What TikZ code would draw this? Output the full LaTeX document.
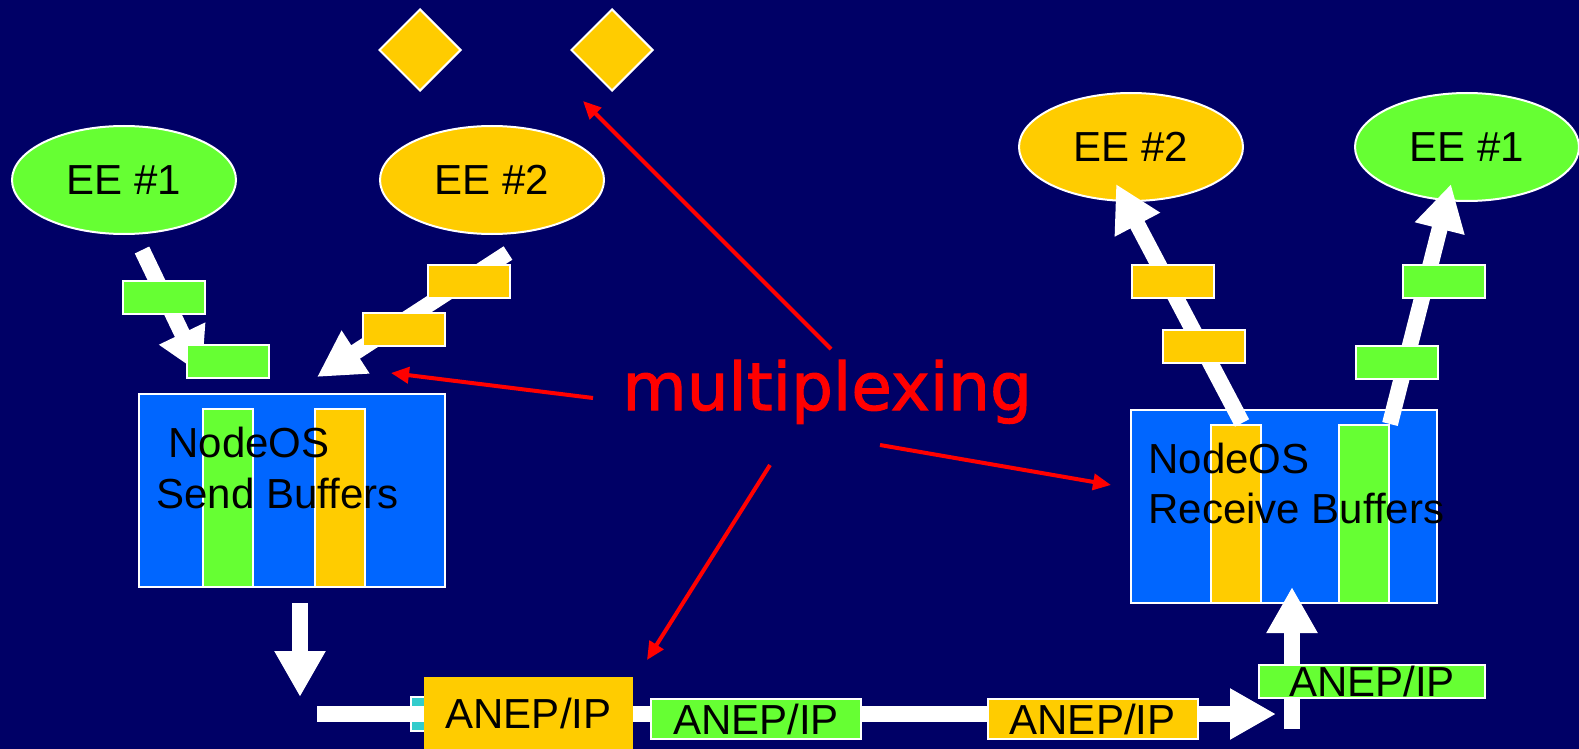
\documentclass[tikz,border=0pt]{standalone}
\usepackage{fontspec}
\setmainfont{Liberation Sans}
\newfontfamily\muxfont[FakeBold=1.6]{DejaVu Sans}
\usetikzlibrary{positioning, shapes.geometric, arrows.meta}

\definecolor{navy}{RGB}{0,0,102}
\definecolor{eegreen}{RGB}{102,255,51}
\definecolor{eeyellow}{RGB}{255,204,0}
\definecolor{bufblue}{RGB}{0,102,255}
\definecolor{anepcyan}{RGB}{51,204,204}

\tikzset{
	txt/.style={font=\fontsize{21}{25.5}\selectfont},
	ee/.style={ellipse, draw=white, line width=1pt, minimum width=112pt, minimum height=54pt, inner sep=0pt, txt},
	gem/.style={diamond, draw=white, line width=1pt, fill=eeyellow, minimum width=41pt, minimum height=41pt, inner sep=0pt},
	buf/.style={rectangle, draw=white, line width=1pt, fill=bufblue, minimum width=153pt, minimum height=96.5pt, inner sep=0pt},
	bar/.style={rectangle, draw=white, line width=1pt, minimum width=25pt, minimum height=89pt, inner sep=0pt},
	pkt/.style={rectangle, draw=white, line width=1pt, minimum width=41pt, minimum height=16.5pt, inner sep=0pt},
	anep/.style={rectangle, draw=white, line width=1pt, minimum width=105pt, minimum height=20pt, inner sep=0pt, txt},
	lbl/.style={anchor=base west, inner sep=0pt, txt},
	fat/.style={white, line width=8pt, -{Triangle[width=24pt, length=23pt]}},
	muxarrow/.style={red, line width=2pt, -{Triangle[width=8pt, length=9pt]}}
}

\begin{document}
\begin{tikzpicture}[x=0.5pt, y=-0.5pt]
	\fill[navy] (0,0) rectangle (1579,749);
	\useasboundingbox (0,0) rectangle (1579,749);

	\node[gem] (gem1) at (420,50) {};
	\node[gem] (gem2) at (612,50) {};

	% execution environments
	\node[ee, fill=eegreen] (ee1s) at (124,180) {EE \#1};
	\node[ee, fill=eeyellow] (ee2s) at (492,180) {EE \#2};
	\node[ee, fill=eeyellow] (ee2r) at (1131,147) {EE \#2};
	\node[ee, fill=eegreen] (ee1r) at (1467,147) {EE \#1};

	% buffers
	\node[buf] (sendbuf) at (292,490) {};
	\node[bar, fill=eegreen] (sendg) at (228,498) {};
	\node[bar, fill=eeyellow] (sendy) at (340,498) {};
	\node[lbl] (sendl1) at (168,457) {NodeOS};
	\node[lbl] (sendl2) at (156,508) {Send Buffers};

	\node[buf] (recvbuf) at (1283.5,506) {};
	\node[bar, fill=eeyellow] (recvy) at (1236,513.5) {};
	\node[bar, fill=eegreen] (recvg) at (1363.5,513.5) {};
	\node[lbl] (recvl1) at (1148,473) {NodeOS};
	\node[lbl] (recvl2) at (1148,523) {Receive Buffers};

	\coordinate (s1a) at (142,250);  \coordinate (s1b) at (202,375);
	\coordinate (s2a) at (508,253);  \coordinate (s2b) at (317,377);
	\coordinate (r2a) at (1242,423); \coordinate (r2b) at (1116,184);
	\coordinate (r1a) at (1390,424); \coordinate (r1b) at (1451,184);
	\draw[fat] (s1a) -- (s1b);
	\draw[fat] (s2a) -- (s2b);
	\draw[fat] (r2a) -- (r2b);
	\draw[fat] (r1a) -- (r1b);

	% packets
	\node[pkt, fill=eegreen] (ps1) at (164,297.5) {};
	\node[pkt, fill=eegreen] (ps2) at (228,361.5) {};
	\node[pkt, fill=eeyellow] (ps3) at (468.5,281.5) {};
	\node[pkt, fill=eeyellow] (ps4) at (403.5,329.5) {};
	\node[pkt, fill=eeyellow] (pr1) at (1172.5,281.5) {};
	\node[pkt, fill=eeyellow] (pr2) at (1203.5,346) {};
	\node[pkt, fill=eegreen] (pr3) at (1444,281.5) {};
	\node[pkt, fill=eegreen] (pr4) at (1396.5,362) {};

	% wire
	\coordinate (dna) at (300,603);  \coordinate (dnb) at (300,697);
	\coordinate (wa) at (317,714);   \coordinate (wb) at (1276,714);
	\coordinate (upa) at (1292,729); \coordinate (upb) at (1292,587);
	\node[rectangle, draw=white, line width=1pt, fill=anepcyan, minimum width=17pt, minimum height=17pt, inner sep=0pt] (cy) at (428,714) {};
	\draw[fat] (dna) -- (dnb);
	\draw[fat] (wa) -- (wb);
	\draw[fat] (upa) -- (upb);
	\node[anep, draw=none, fill=eeyellow, minimum width=104.5pt, minimum height=36pt] (anep0) at (528.5,713) {ANEP/IP};
	\node[anep, fill=eegreen] (anep1) at (756,719) {ANEP/IP};
	\node[anep, fill=eeyellow] (anep2) at (1092.5,719) {ANEP/IP};
	\node[anep, fill=eegreen, minimum width=113pt, minimum height=16.5pt] (anep3) at (1372,681.5) {ANEP/IP};

	% multiplexing
	\node[anchor=base west, inner sep=0pt, text=red, font=\muxfont\fontsize{33}{36}\selectfont] (mux) at (622,410) {multiplexing};
	\coordinate (m1) at (831,349);  \coordinate (t1) at (583,101);
	\coordinate (m2) at (593,398);  \coordinate (t2) at (391,373);
	\coordinate (m3) at (880,445);  \coordinate (t3) at (1111,485);
	\coordinate (m4) at (770,465);  \coordinate (t4) at (647,660);
	\draw[muxarrow] (m1) -- (t1);
	\draw[muxarrow] (m2) -- (t2);
	\draw[muxarrow] (m3) -- (t3);
	\draw[muxarrow] (m4) -- (t4);
\end{tikzpicture}
\end{document}
